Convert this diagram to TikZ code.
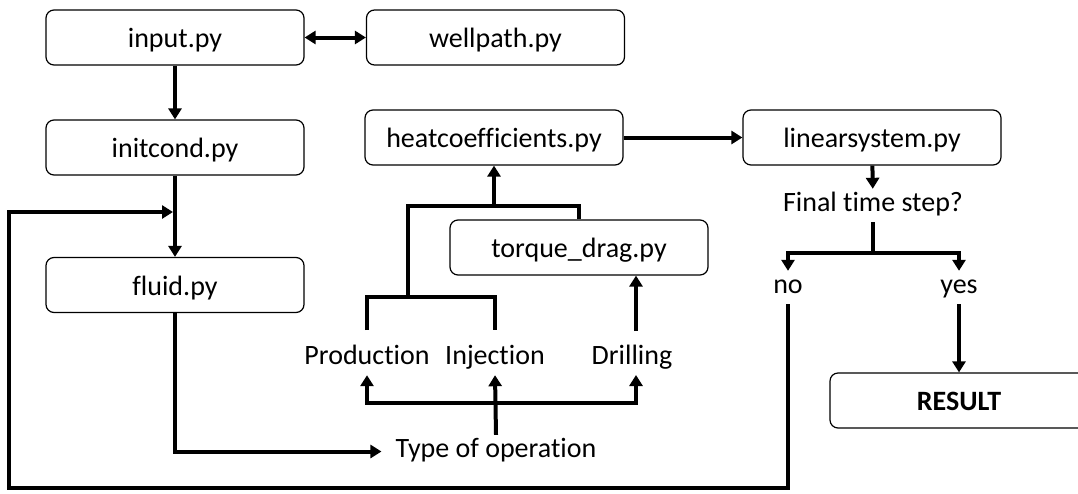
\documentclass[tikz,border=0pt]{standalone}
\usepackage{fontspec}
\setmainfont[Ligatures=NoCommon]{Carlito}
\usetikzlibrary{arrows.meta}
\begin{document}
\begin{tikzpicture}[x=1pt,y=-1pt,
  box/.style={draw, rounded corners=8pt, line width=1.2pt, minimum width=258pt, minimum height=55pt,
    inner sep=0pt, text height=24pt, text depth=4pt, font=\fontsize{28}{32}\selectfont},
  lbl/.style={inner xsep=2pt, inner ysep=4pt, text height=18pt, text depth=7pt, font=\fontsize{28}{32}\selectfont},
  conn/.style={line width=4pt},
  arr/.style={conn, -{Triangle[width=13pt,length=11pt]}},
  darr/.style={conn, {Triangle[width=13pt,length=11pt]}-{Triangle[width=13pt,length=11pt]}},
]
\useasboundingbox (0,0) rectangle (1078,493);
\clip (0,0) rectangle (1078,493);

% boxes
\node[box] (input)  at (175,37.5)  {input.py};
\node[box] (well)   at (495.5,37.5) {wellpath.py};
\node[box] (init)   at (175,147.5) {initcond.py};
\node[box] (fluid)  at (175,285)   {fluid.py};
\node[box] (heat)   at (494,137.5) {heatcoefficients.py};
\node[box] (lin)    at (872,137.5) {linearsystem.py};
\node[box] (torque) at (579,247.5) {torque\_drag.py};
\node[box] (result) at (959,400.5) {\textbf{RESULT}};

% labels
\node[lbl] (prod)  at (367,358.5) {Production};
\node[lbl] (inj)   at (495,358.5) {Injection};
\node[lbl] (drill) at (632,358.5) {Drilling};
\node[lbl] (type)  at (496,451.5) {Type of operation};
\node[lbl] (final) at (873,205.5) {Final time step?};
\node[lbl] (no)    at (788,287.5) {no};
\node[lbl] (yes)   at (959,287.5) {yes};

% junction coordinates
\coordinate (ptop) at (367,330);
\coordinate (itop) at (495,330);
\coordinate (pj)   at (408,297);
\coordinate (hj)   at (494,206);
\coordinate (bar)  at (495,403);
\coordinate (dtop) at (636,331);
\coordinate (dbot) at (636,375);
\coordinate (fj)   at (873,253);
\coordinate (lbot) at (9,488);
\coordinate (join) at (173,212);

% connectors
\draw[darr] (input) -- (well);
\draw[arr] (input) -- (init);
\draw[arr] (init) -- (fluid);
\draw[arr] (heat) -- (lin);
\draw[arr] (lin) -- (final);
\draw[conn] (final.south) -- (fj);
\draw[arr] (fj) -| (no.north);
\draw[arr] (fj) -| (yes.north);
\draw[arr] (yes) -- (result);
\draw[arr] (no.south) |- (lbot) |- (join);
\draw[arr, shorten >=12pt] (fluid.south) |- (type.west);
\draw[arr] (type.north) -- (inj.south);
\draw[arr] (bar) -| (prod.south);
\draw[arr] (bar) -| (dbot);
\draw[conn] (ptop) |- (pj) -| (itop);
\draw[conn] (pj) |- (hj) -| (torque.north);
\draw[arr] (hj) -- (heat.south);
\draw[arr] (dtop) -- (dtop |- torque.south);
\end{tikzpicture}
\end{document}
